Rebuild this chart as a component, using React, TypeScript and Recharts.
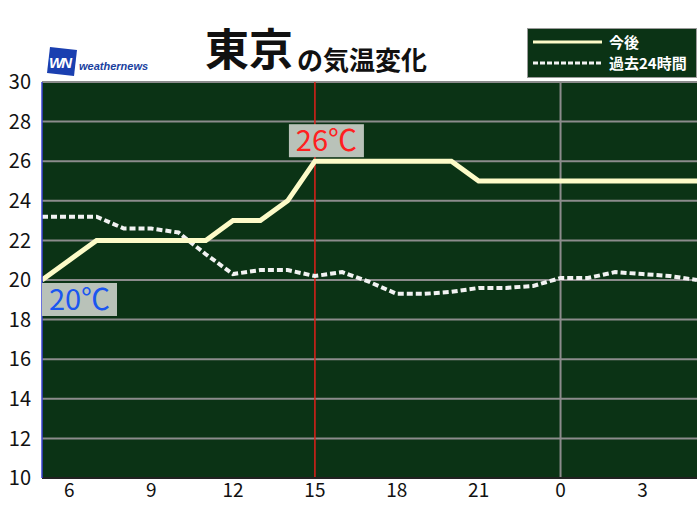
import React from 'react';
import {
  LineChart, Line, XAxis, YAxis, CartesianGrid, ReferenceLine, ReferenceDot,
} from 'recharts';

// hours run 5 .. 29 (29 = 5 o'clock next day)
const hours = [5, 6, 7, 8, 9, 10, 11, 12, 13, 14, 15, 16, 17, 18, 19, 20, 21, 22, 23, 24, 25, 26, 27, 28, 29];
const forecast = [20, 21, 22, 22, 22, 22, 22, 23, 23, 24, 26, 26, 26, 26, 26, 26, 25, 25, 25, 25, 25, 25, 25, 25, 25];
const past = [23.2, 23.2, 23.2, 22.6, 22.6, 22.4, 21.3, 20.3, 20.5, 20.5, 20.2, 20.4, 19.9, 19.3, 19.3, 19.4, 19.6, 19.6, 19.7, 20.1, 20.1, 20.4, 20.3, 20.2, 20.0];
const xTicks = [6, 9, 12, 15, 18, 21, 24, 27];
const yTicks = [10, 12, 14, 16, 18, 20, 22, 24, 26, 28, 30];
const nowHour = 15;
const dayChangeHour = 24;
const legendNames = ['今後', '過去24時間'];

const FONT = '"Noto Sans CJK JP", "Noto Sans", sans-serif';

const chartData = hours.map((h, i) => ({ h, forecast: forecast[i], past: past[i] }));

const maxTemp = Math.max(...forecast);
const minTemp = Math.min(...forecast);
const maxHour = hours[forecast.indexOf(maxTemp)];
const minHour = hours[forecast.indexOf(minTemp)];

const TempBadge = ({ cx, cy, text, color, dx, dy }: any) => (
  <g>
    <rect x={cx + dx} y={cy + dy} width={75} height={33} fill="#b9c2b9" />
    <text x={cx + dx + 37.5} y={cy + dy + 27} textAnchor="middle" fill={color}
      fontSize={29} fontFamily={FONT}>{text}</text>
  </g>
);

export default function App() {
  return (
    <div style={{ position: 'absolute', left: 0, top: 0, width: 700, height: 525, background: '#fff' }}>
      <LineChart width={700} height={525} data={chartData}
        margin={{ top: 82, right: 3, bottom: 17, left: 0 }}>
        <CartesianGrid vertical={false} stroke="#8c8c8c" strokeWidth={2} fill="#0b3315" fillOpacity={1} />
        <XAxis dataKey="h" type="number" domain={[5, 29]} ticks={xTicks} height={30}
          tickFormatter={(v) => String(v % 24)}
          tick={{ fontSize: 19, fill: '#111', fontFamily: FONT }}
          tickLine={false} axisLine={{ stroke: '#222', strokeWidth: 2 }} tickMargin={0} />
        <YAxis domain={[10, 30]} ticks={yTicks} width={42} interval={0}
          tick={{ fontSize: 20, fill: '#111', fontFamily: FONT }}
          tickLine={false} axisLine={{ stroke: '#3a45d0', strokeWidth: 1.5 }} tickMargin={5} />
        <ReferenceLine x={dayChangeHour} stroke="#8c8c8c" strokeWidth={2} />
        <ReferenceLine x={nowHour} stroke="#e0201a" strokeWidth={1.5} />
        <Line dataKey="past" stroke="#f2f2f2" strokeWidth={4} strokeDasharray="6 3"
          dot={false} isAnimationActive={false} />
        <Line dataKey="forecast" stroke="#fdfbc8" strokeWidth={5}
          dot={false} isAnimationActive={false} strokeLinejoin="miter" />
        <ReferenceDot x={maxHour} y={maxTemp} r={0}
          shape={(p: any) => <TempBadge cx={p.cx} cy={p.cy} text={`${maxTemp}℃`} color="#ff2020" dx={-26} dy={-37} />} />
        <ReferenceDot x={minHour} y={minTemp} r={0}
          shape={(p: any) => <TempBadge cx={p.cx} cy={p.cy} text={`${minTemp}℃`} color="#1a56f0" dx={0} dy={3} />} />
      </LineChart>
      <svg width={700} height={82} style={{ position: 'absolute', left: 0, top: 0, pointerEvents: 'none' }}>
        {/* logo */}
        <polygon points="50,47 77,50 74,76 47,73" fill="#1a3fb0" />
        <text x={49} y={68} fill="#fff" fontSize={15} fontWeight={700} fontStyle="italic"
          fontFamily="Arial, sans-serif" letterSpacing={-2}>WN</text>
        <text x={79} y={70} fill="#1a3fa0" fontSize={11} fontWeight={700} fontStyle="italic"
          fontFamily="Arial, sans-serif">weathernews</text>
        {/* title */}
        <text x={205} y={66} fill="#111" fontSize={44} fontWeight={700} fontFamily={FONT}>東京</text>
        <text x={297} y={70} fill="#111" fontSize={26} fontWeight={700} fontFamily={FONT}>の気温変化</text>
        {/* legend */}
        <rect x={527.5} y={28.5} width={169} height={49} fill="#0b3315" stroke="#9a9a9a" strokeWidth={1} />
        <line x1={533} x2={602} y1={42} y2={42} stroke="#fdfbc8" strokeWidth={3} />
        <line x1={533} x2={602} y1={63} y2={63} stroke="#f2f2f2" strokeWidth={3} strokeDasharray="5 2" />
        <text x={609} y={48} fill="#fff" fontSize={15} fontWeight={700} fontFamily={FONT}>{legendNames[0]}</text>
        <text x={609} y={69} fill="#fff" fontSize={15} fontWeight={700} fontFamily={FONT}>{legendNames[1]}</text>
      </svg>
    </div>
  );
}
